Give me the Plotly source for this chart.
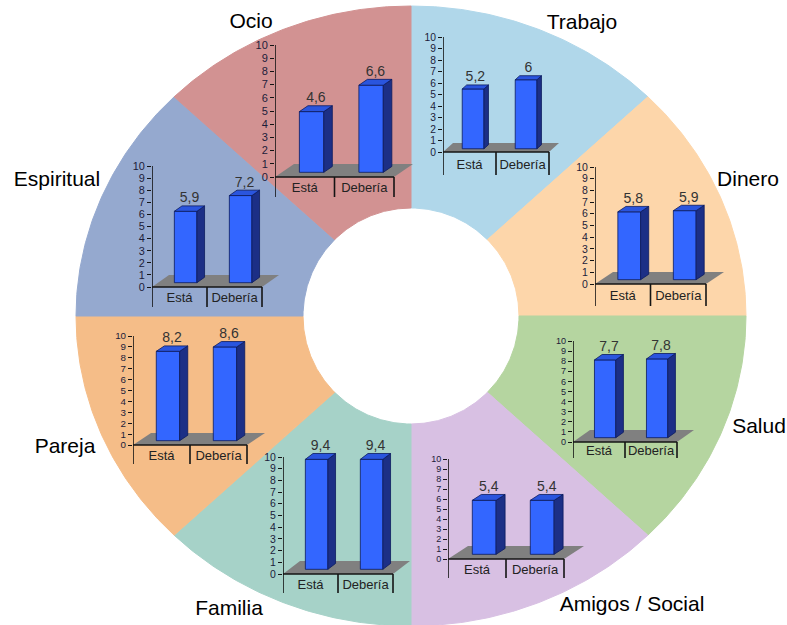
import numpy as np
import plotly.graph_objects as go

W, H = 787, 625

# ---------------- data ----------------
categories = ["Trabajo", "Dinero", "Salud", "Amigos / Social",
              "Familia", "Pareja", "Espiritual", "Ocio"]
series_names = ["Está", "Debería"]
esta = [5.2, 5.8, 7.7, 5.4, 9.4, 8.2, 5.9, 4.6]
deberia = [6.0, 5.9, 7.8, 5.4, 9.4, 8.6, 7.2, 6.6]
y_ticks = list(range(0, 11))
y_tick_labels = [str(t) for t in y_ticks]

# ---------------- styles / layout ----------------
slice_colors = ["#b0d7ea", "#fdd6aa", "#b5d5a0", "#d8c0e3",
                "#a6d2c8", "#f5bd88", "#95a9cf", "#d29292"]
FONT = "Liberation Sans, Arial, sans-serif"
donut = dict(cx=411, cy=316, rx=335, ry=310, rin=108)
label_pos = {
    "Trabajo": (582, 24), "Dinero": (748, 181), "Salud": (759, 428),
    "Amigos / Social": (632, 606), "Familia": (229, 610), "Pareja": (65, 448),
    "Espiritual": (57, 181), "Ocio": (251, 23),
}
# px of y-axis, px of right end, px of 0, px of 10, px of axis bottom, depth dx, depth dy
chart_box = {
    "Ocio": (275, 394, 177, 45, 197, 19, 13),
    "Trabajo": (443, 549, 152, 37, 175, 10, 9),
    "Dinero": (595, 706, 284, 167, 306, 18, 12),
    "Salud": (573, 677, 442, 341, 458, 17, 12),
    "Amigos / Social": (448, 564, 559, 459, 578, 20, 13),
    "Familia": (283, 393, 574, 457, 593, 17, 13),
    "Pareja": (133, 247, 445, 336, 464, 18, 12),
    "Espiritual": (152, 262, 287, 166, 307, 17, 12),
}
FRONT, SIDE, TOP, EDGE = "#3366ff", "#1c2f86", "#2a55de", "#0b1a5e"
FLOOR = "#808080"
AXC = "#141414"

fig = go.Figure()

# ---------------- donut ----------------
n = len(categories)
cx, cy, rx, ry, rin = (donut[k] for k in ("cx", "cy", "rx", "ry", "rin"))
for i, col in enumerate(slice_colors):
    t = np.linspace(i / n, (i + 1) / n, 80) * 2 * np.pi
    xo = cx + rx * np.sin(t)
    yo = cy - ry * np.cos(t)
    xi = cx + rin * np.sin(t[::-1])
    yi = cy - rin * np.cos(t[::-1])
    fig.add_trace(go.Scatter(
        x=np.r_[xo, xi, xo[:1]], y=np.r_[yo, yi, yo[:1]], mode="lines",
        fill="toself", fillcolor=col, line=dict(color=col, width=1),
        hoverinfo="skip", showlegend=False, xaxis="x", yaxis="y"))

fig.add_trace(go.Scatter(
    x=[label_pos[c][0] for c in categories], y=[label_pos[c][1] for c in categories],
    text=categories, mode="text", textfont=dict(family=FONT, size=21, color="#000"),
    cliponaxis=False, hoverinfo="skip", showlegend=False, xaxis="x", yaxis="y"))

layout_axes = dict(
    xaxis=dict(domain=[0, 1], range=[0, W], visible=False, fixedrange=True),
    yaxis=dict(domain=[0, 1], range=[H, 0], visible=False, fixedrange=True),
)
shapes = []

A, B, BW = 0.36, 0.45, 0.41  # front offset fraction, bar depth fraction, bar width

for k, cat in enumerate(categories):
    j = k + 2
    xa, ya = f"x{j}", f"y{j}"
    px0, pxr, py0, py10, pyb, ddx, ddy = chart_box[cat]
    xs = (pxr - px0) / 2.0
    ys = (py0 - py10) / 10.0
    fx, fy = ddx / xs, ddy / ys
    x_min, x_max = -0.5, 1.5 + (ddx + 6) / xs
    y_min, y_max = -(pyb - py0) / ys, 10 + 22 / ys
    layout_axes[f"xaxis{j}"] = dict(
        domain=[px0 / W, (px0 + (x_max - x_min) * xs) / W], range=[x_min, x_max],
        visible=False, fixedrange=True, anchor=ya)
    layout_axes[f"yaxis{j}"] = dict(
        domain=[(H - pyb) / H, (H - (py10 - 22)) / H], range=[y_min, y_max],
        anchor=xa, tickmode="array", tickvals=y_ticks, ticktext=y_tick_labels,
        ticks="outside", ticklen=4, tickwidth=1, tickcolor=AXC,
        tickfont=dict(family=FONT, size=min(11, round(ys * 0.9, 1)), color="#1c1c3a"),
        showgrid=False, zeroline=False, showline=False, fixedrange=True)

    # floor
    shapes.append(dict(
        type="path", xref=xa, yref=ya, layer="below",
        path=f"M {-0.5},0 L {1.5},0 L {1.5 + fx},{fy} L {-0.5 + fx},{fy} Z",
        fillcolor=FLOOR, line=dict(width=0)))

    vals = [esta[k], deberia[k]]
    ox, oy = A * fx, A * fy
    bx, by = B * fx, B * fy
    pos = [0, 1]
    fig.add_trace(go.Bar(
        x=[p + ox for p in pos], y=vals, base=[oy, oy], width=BW,
        marker=dict(color=FRONT, line=dict(color=EDGE, width=0.8)),
        hoverinfo="skip", showlegend=False, xaxis=xa, yaxis=ya))
    for p, v in zip(pos, vals):
        xl, xr = p - BW / 2 + ox, p + BW / 2 + ox
        # side face
        fig.add_trace(go.Scatter(
            x=[xr, xr + bx, xr + bx, xr, xr], y=[oy, oy + by, oy + v + by, oy + v, oy],
            mode="lines", fill="toself", fillcolor=SIDE, line=dict(color=EDGE, width=0.8),
            hoverinfo="skip", showlegend=False, xaxis=xa, yaxis=ya))
        # top face
        fig.add_trace(go.Scatter(
            x=[xl, xr, xr + bx, xl + bx, xl],
            y=[oy + v, oy + v, oy + v + by, oy + v + by, oy + v],
            mode="lines", fill="toself", fillcolor=TOP, line=dict(color=EDGE, width=0.8),
            hoverinfo="skip", showlegend=False, xaxis=xa, yaxis=ya))

    # axis lines and category separators
    fig.add_trace(go.Scatter(
        x=[-0.5, -0.5, None, -0.5, 1.5, None, 0.5, 0.5, None, 1.5, 1.5],
        y=[y_min, 10, None, 0, 0, None, 0, y_min, None, 0, y_min],
        mode="lines", line=dict(color=AXC, width=1.6), hoverinfo="skip",
        showlegend=False, xaxis=xa, yaxis=ya))
    # category labels
    fig.add_trace(go.Scatter(
        x=pos, y=[y_min * 0.6] * 2, text=series_names, mode="text",
        textfont=dict(family=FONT, size=13, color="#222"), cliponaxis=False,
        hoverinfo="skip", showlegend=False, xaxis=xa, yaxis=ya))
    # value labels
    fig.add_trace(go.Scatter(
        x=[p + ox + bx / 2 for p in pos], y=[oy + v + by for v in vals],
        text=[(f"{v:g}").replace(".", ",") for v in vals], mode="text",
        textposition="top center",
        textfont=dict(family=FONT, size=14, color="#333"), cliponaxis=False,
        hoverinfo="skip", showlegend=False, xaxis=xa, yaxis=ya))

fig.update_layout(
    width=W, height=H, margin=dict(l=0, r=0, t=0, b=0),
    paper_bgcolor="white", plot_bgcolor="rgba(0,0,0,0)",
    showlegend=False, barmode="overlay", hovermode=False,
    shapes=shapes, **layout_axes)

fig.write_html("out.html")
